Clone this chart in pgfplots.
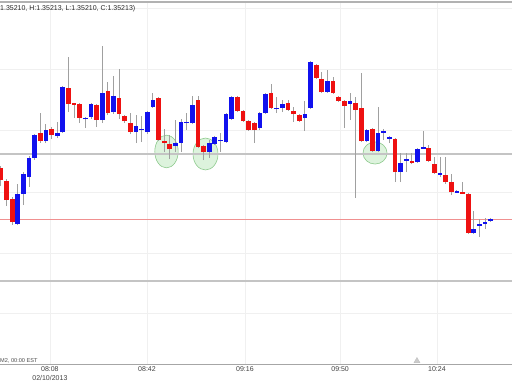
\documentclass[border=0pt]{standalone}
\usepackage{fontspec}
\setmainfont{Liberation Sans}
\usepackage{pgfplots}
\usepackage{pgfplotstable}
\pgfplotsset{compat=1.18}
\definecolor{cred}{HTML}{EE1111}
\definecolor{cblue}{HTML}{1111EE}
\definecolor{wick}{HTML}{A0A0A0}
\definecolor{hline}{HTML}{C4C4C4}
\definecolor{pline}{HTML}{F09090}
\definecolor{gridc}{HTML}{F0F0F0}
\definecolor{efill}{HTML}{DDF3DD}
\definecolor{edraw}{HTML}{8CC98C}

\pgfplotsset{base/.style={
  at={(0,0)}, anchor=south west,
  scale only axis, width=512pt, height=362pt,
  xmin=0.84, xmax=91.78, ymin=20, ymax=382,
  clip=false}}

\pgfplotstableread{
i top bot hi lo
1 216 204 218 198
2 203 184 205 178
3 185 162 187 159
8 251 243 271 241
10 255 249 257 245
13 296 280 327 272
14 281 279.5 281 266
15 280 266 281 261
18 279 264 280 257
20 293 271 302 269
22 286 270 315 265
23 268 263 269 261
24 261 252 271 250
29 286 244 287 243
30 243 241 255 232
31 240 235 249 225
36 284 237 288 236
37 238 232 239 224
43 287 273 288 272
44 273 263 274 262
45 263 254 264 253
46 261 254 262 241
49 291 276 300 275
52 281 274 284 273
53 273 270 277 262
54 269 263 270 262
57 319 306 320 305
58 305 292 312 291
60 303 291 307 290
61 287 283 288 282
62 283 278 284 256
64 281 274 287 186
65 276 243 311 242
67 255 233 256 232
71 245 212 246 202
74 223 221 231 220
77 236 223 239 222
78 220 211 227 210
80 209 202 227 200
81 202 192 210 189
83 192 190.5 202 190
84 190 151 191 150
}\redc

\pgfplotstableread{
i top bot hi lo
4 190 160 200 159
5 210 190 212 179
6 226 207 228 197
7 249 226 250 224
9 254 243 260 241
11 251 248 262 246
12 297 252 298 251
16 266.5 265 267 256
17 280 267 281 265
19 291 264 338 261
21 288 272 308 270
25 258 252 269 241
26 255.5 254 268 242
27 272 252 273 250
28 284 277 291 276
32 241 238 264 232
33 262 241 265 232
34 262.5 261 271 254
35 279 261 288 260
38 241 232 244 226
39 247 240 248 239
40 244.5 243 251 232
41 270 242 271 241
42 287 265 288 264
47 271 256 272 254
48 290 271 291 270
50 276.5 275 287 271
51 280 276 284 272
55 270 266 283 253
56 322 276 323 275
59 303 292 314 291
63 283 280 291 264
66 254 243 255 242
68 251 233 277 232
69 253 251.5 255 244
70 247 245.5 248 241
72 221 212 231 202
73 225 223.5 231 212
75 235 222 236 221
76 237 235.5 253 235
79 211 209.5 227 207
82 193 191.5 194 191
85 155 151 173 150
86 160 158 165 147
87 162 160.5 166 155
88 165 163 166 162
}\bluec

\begin{document}
\begin{tikzpicture}
% background axis: annotation ellipses, behind everything
\begin{axis}[base, hide axis]
\addplot[only marks, mark=*, mark size=11.7pt, mark options={yscale=1.4, fill=efill, draw=edraw, line width=0.6pt}] coordinates {(30.41,232.5)};
\addplot[only marks, mark=*, mark size=12.5pt, mark options={yscale=1.28, fill=efill, draw=edraw, line width=0.6pt}] coordinates {(37.34,230)};
\addplot[only marks, mark=*, mark size=12pt, mark options={yscale=0.92, fill=efill, draw=edraw, line width=0.6pt}] coordinates {(67.45,231)};
\end{axis}
\begin{axis}[
  base,
  axis line style={draw=none},
  major tick length=0pt,
  xtick={9.7,26.95,44.35,61.25,78.45},
  xticklabels={08:08\\02/10/2013,08:42,09:16,09:50,10:24},
  xticklabel style={align=center, font=\fontsize{7}{9.5}\selectfont, text=black!75, inner sep=1pt, yshift=-1pt},
  ytick=\empty,
  xmajorgrids,
  grid style={draw=gridc, line width=0.6pt},
]
% horizontal grid
\addplot[draw=gridc, line width=0.6pt] coordinates {(0.84,71) (91.78,71)};
\addplot[draw=gridc, line width=0.6pt] coordinates {(0.84,131) (91.78,131)};
\addplot[draw=gridc, line width=0.6pt] coordinates {(0.84,192) (91.78,192)};
\addplot[draw=gridc, line width=0.6pt] coordinates {(0.84,254) (91.78,254)};
\addplot[draw=gridc, line width=0.6pt] coordinates {(0.84,315) (91.78,315)};
\addplot[draw=gridc, line width=0.6pt] coordinates {(0.84,376) (91.78,376)};
% frame lines
\addplot[draw=black!30, line width=1.4pt] coordinates {(0.84,382) (91.78,382)};
\addplot[draw=black!35, line width=0.8pt] coordinates {(0.84,20) (91.78,20)};
% horizontal levels
\addplot[draw=hline, line width=1.5pt] coordinates {(0.84,230) (91.78,230)};
\addplot[draw=hline, line width=1.5pt] coordinates {(0.84,103) (91.78,103)};
\addplot[draw=pline, line width=0.8pt] coordinates {(0.84,165) (91.78,165)};
% wicks
\addplot[draw=none, mark=none, error bars/.cd, y dir=plus, y explicit, error mark=none,
  error bar style={draw=wick, line width=0.9pt}]
  table[x=i, y=lo, y error plus expr=\thisrow{hi}-\thisrow{lo}] {\redc};
\addplot[draw=none, mark=none, error bars/.cd, y dir=plus, y explicit, error mark=none,
  error bar style={draw=wick, line width=0.9pt}]
  table[x=i, y=lo, y error plus expr=\thisrow{hi}-\thisrow{lo}] {\bluec};
% bodies
\addplot[draw=none, mark=none, error bars/.cd, y dir=plus, y explicit, error mark=none,
  error bar style={draw=cred, line width=4.7pt}]
  table[x=i, y=bot, y error plus expr=\thisrow{top}-\thisrow{bot}] {\redc};
\addplot[draw=none, mark=none, error bars/.cd, y dir=plus, y explicit, error mark=none,
  error bar style={draw=cblue, line width=4.7pt}]
  table[x=i, y=bot, y error plus expr=\thisrow{top}-\thisrow{bot}] {\bluec};
% small marker on axis
\addplot[only marks, mark=triangle*, mark size=3.5pt, mark options={fill=black!20, draw=black!25}] coordinates {(74.9,23)};
% texts
\node[anchor=base west, inner sep=0pt, font=\fontsize{7}{8}\selectfont, text=black!85] at (axis cs:0.84,374) {1.35210, H:1.35213, L:1.35210, C:1.35213)};
\node[anchor=base west, inner sep=0pt, font=\fontsize{5.6}{7}\selectfont, text=black!70] at (axis cs:0.84,22) {M2, 00:00 EST};
\end{axis}
\pgfresetboundingbox
\path[use as bounding box] ([yshift=-20pt]current axis.south west) rectangle ([yshift=2pt]current axis.north east);
\end{tikzpicture}
\end{document}
